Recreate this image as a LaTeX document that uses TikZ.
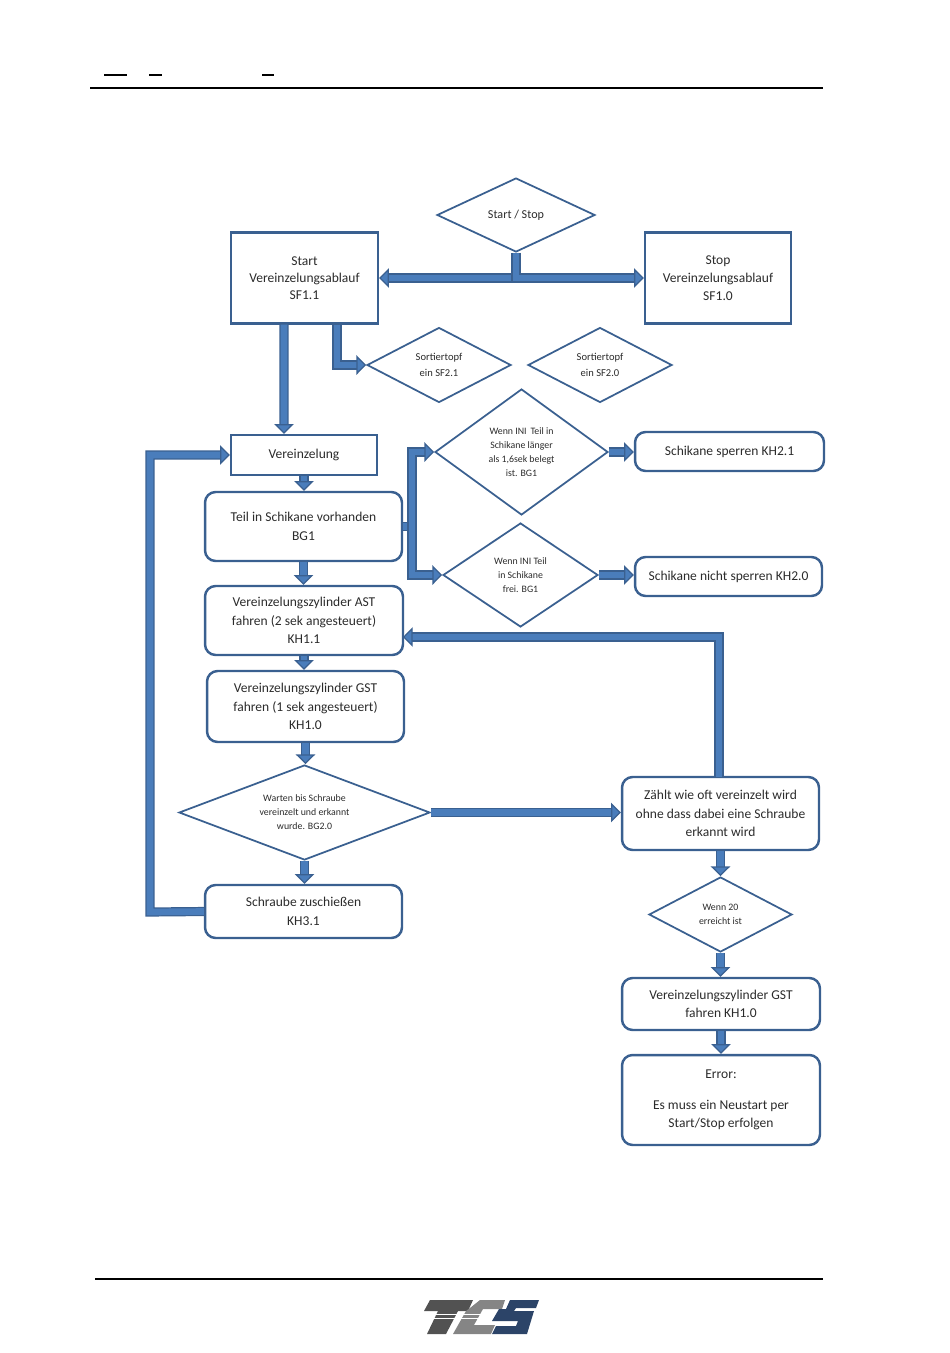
\documentclass[tikz,border=0pt]{standalone}
\usepackage{fontspec}
\setmainfont{Carlito}
\usetikzlibrary{shapes.geometric,arrows.meta}

\definecolor{linecol}{HTML}{3A6090}
\definecolor{flowcol}{HTML}{4A7DBB}
\definecolor{textcol}{HTML}{2B2B2B}
\definecolor{logonavy}{HTML}{2C4468}

\tikzset{
  sbox/.style={draw=linecol, line width=1.4pt, rectangle, text=textcol, align=center, inner sep=0pt, font=\fontsize{7.7}{10.5}\selectfont},
  rbox/.style={sbox, rounded corners=6pt},
  ask/.style={draw=linecol, line width=1pt, diamond, text=textcol, align=center, inner sep=0pt, font=\fontsize{5.6}{8}\selectfont},
  flow/.style={draw=linecol, line width=0.7pt, double=flowcol, double distance=3.8pt, -{Triangle[length=5.5pt,width=11pt,fill=flowcol]}},
  flowplain/.style={draw=linecol, line width=0.7pt, double=flowcol, double distance=3.8pt}
}

\begin{document}
\begin{tikzpicture}[x=0.02cm,y=-0.02cm]
\useasboundingbox (0,0) rectangle (950,1353);

% page rules
\draw[black, line width=0.6pt] (90,88) -- (823,88);
\draw[black, line width=0.6pt] (95,1279) -- (823,1279);
\draw[black, line width=1.2pt] (104,75) -- (127,75);
\draw[black, line width=1.2pt] (149,75) -- (162,75);
\draw[black, line width=1.2pt] (262,75) -- (274,75);

% top
\node[ask, aspect=2.13, minimum width=3.16cm, minimum height=1.48cm, font=\fontsize{6.9}{8}\selectfont] (startstop) at (516,215) {Start / Stop};
\node[sbox, minimum width=2.94cm, minimum height=1.82cm, font=\fontsize{7.7}{9.8}\selectfont] (start) at (304.5,278) {Start\\Vereinzelungsablauf\\SF1.1};
\node[sbox, minimum width=2.92cm, minimum height=1.82cm, font=\fontsize{7.7}{10.4}\selectfont] (stop) at (718,278) {Stop\\Vereinzelungsablauf\\SF1.0};
\node[ask, aspect=1.92, minimum width=2.88cm, minimum height=1.5cm, font=\fontsize{6}{9}\selectfont] (sort1) at (439,365) {Sortiertopf\\ein SF2.1};
\node[ask, aspect=1.92, minimum width=2.88cm, minimum height=1.5cm, font=\fontsize{6}{9}\selectfont] (sort2) at (600,365) {Sortiertopf\\ein SF2.0};

% left column
\node[sbox, minimum width=2.92cm, minimum height=0.8cm] (vereinz) at (304,455) {Vereinzelung};
\node[rbox, minimum width=3.94cm, minimum height=1.38cm] (teil) at (303.5,526.5) {Teil in Schikane vorhanden\\BG1};
\node[rbox, minimum width=3.96cm, minimum height=1.38cm] (ast) at (304,620.5) {Vereinzelungszylinder AST\\fahren (2 sek angesteuert)\\KH1.1};
\node[rbox, minimum width=3.94cm, minimum height=1.42cm] (gst) at (305.5,706.5) {Vereinzelungszylinder GST\\fahren (1 sek angesteuert)\\KH1.0};
\node[ask, aspect=2.64, minimum width=5.02cm, minimum height=1.9cm] (warten) at (304.5,812.5) {Warten bis Schraube\\vereinzelt und erkannt\\wurde. BG2.0};
\node[rbox, minimum width=3.94cm, minimum height=1.06cm] (schraube) at (303.5,911.5) {Schraube zuschießen\\KH3.1};

% middle
\node[ask, aspect=1.37, minimum width=3.46cm, minimum height=2.52cm] (ini1) at (521.5,452) {Wenn INI\, Teil in\\Schikane länger\\als 1,6sek belegt\\ist. BG1};
\node[ask, aspect=1.49, minimum width=3.1cm, minimum height=2.08cm] (ini2) at (520.5,575) {Wenn INI Teil\\in Schikane\\frei. BG1};
\node[rbox, minimum width=3.78cm, minimum height=0.78cm] (sperren) at (729.5,451.5) {Schikane sperren KH2.1};
\node[rbox, minimum width=3.74cm, minimum height=0.78cm] (nicht) at (728.5,576.5) {Schikane nicht sperren KH2.0};

% right column
\node[rbox, minimum width=3.94cm, minimum height=1.46cm] (zaehlt) at (720.5,813.5) {Zählt wie oft vereinzelt wird\\ohne dass dabei eine Schraube\\erkannt wird};
\node[ask, aspect=1.91, minimum width=2.86cm, minimum height=1.5cm] (wenn20) at (720.5,914.5) {Wenn 20\\erreicht ist};
\node[rbox, minimum width=3.96cm, minimum height=1.04cm] (gst2) at (721,1004) {Vereinzelungszylinder GST\\fahren KH1.0};
\node[rbox, minimum width=3.96cm, minimum height=1.8cm] (error) at (721,1100) {Error:\\[7pt]Es muss ein Neustart per\\Start/Stop erfolgen};

\coordinate (fork) at (412,526.5);
\coordinate (back) at (150,912);
\coordinate (loopin) at (403,637);
\coordinate (loopup) at (719,777);

% connectors
\draw[flow] (startstop.south) |- (start.east);
\draw[flow] (startstop.south) |- (stop.west);
\draw[flow] ([xshift=-0.41cm]start.south) -- ([xshift=-0.40cm]vereinz.north);
\draw[flow] ([xshift=0.65cm]start.south) |- (sort1.west);
\draw[flow] (vereinz.south) -- (teil.north -| vereinz.south);
\draw[flowplain] (teil.east) -- (fork);
\draw[flow] (fork) |- (ini1.west);
\draw[flow] (fork) |- (ini2.west);
\draw[flow] (ini1.east) -- (ini1.east -| sperren.west);
\draw[flow] (ini2.east) -- (ini2.east -| nicht.west);
\draw[flow] (teil.south) -- (ast.north -| teil.south);
\draw[flow] (ast.south) -- (gst.north -| ast.south);
\draw[flow] (gst.south) -- (warten.north -| gst.south);
\draw[flow] (warten.south) -- (schraube.north -| warten.south);
\draw[flow] (schraube.west) -- (back) |- (vereinz.west);
\draw[flow] (warten.east) -- (warten.east -| zaehlt.west);
\draw[flow] (loopup) |- (loopin);
\draw[flow] (zaehlt.south) -- (wenn20.north);
\draw[flow] (wenn20.south) -- (wenn20.south |- gst2.north);
\draw[flow] (gst2.south) -- (gst2.south |- error.north);

% logo
\fill[black!68] (430,1300) -- (473,1300) -- (468,1311) -- (458,1311) -- (446,1334) -- (427,1334) -- (438,1311) -- (424,1311) -- cycle;
\fill[black!48] (480,1300) -- (505,1300) -- (502,1309) -- (483,1309) -- (474,1325) -- (495,1325) -- (491,1334) -- (453,1334) -- (466,1311) -- (470,1308) -- cycle;
\fill[logonavy] (510,1300) -- (539,1300) -- (536,1308) -- (516,1308) -- (514,1311) -- (534,1311) -- (527,1334) -- (492,1334) -- (496,1326) -- (516,1326) -- (518,1321) -- (492,1321) -- (499,1309) -- (506,1309) -- cycle;
\draw[white, line width=0.5pt] (420,1314) -- (490,1314);
\draw[white, line width=0.5pt] (420,1318) -- (490,1318);
\end{tikzpicture}
\end{document}
